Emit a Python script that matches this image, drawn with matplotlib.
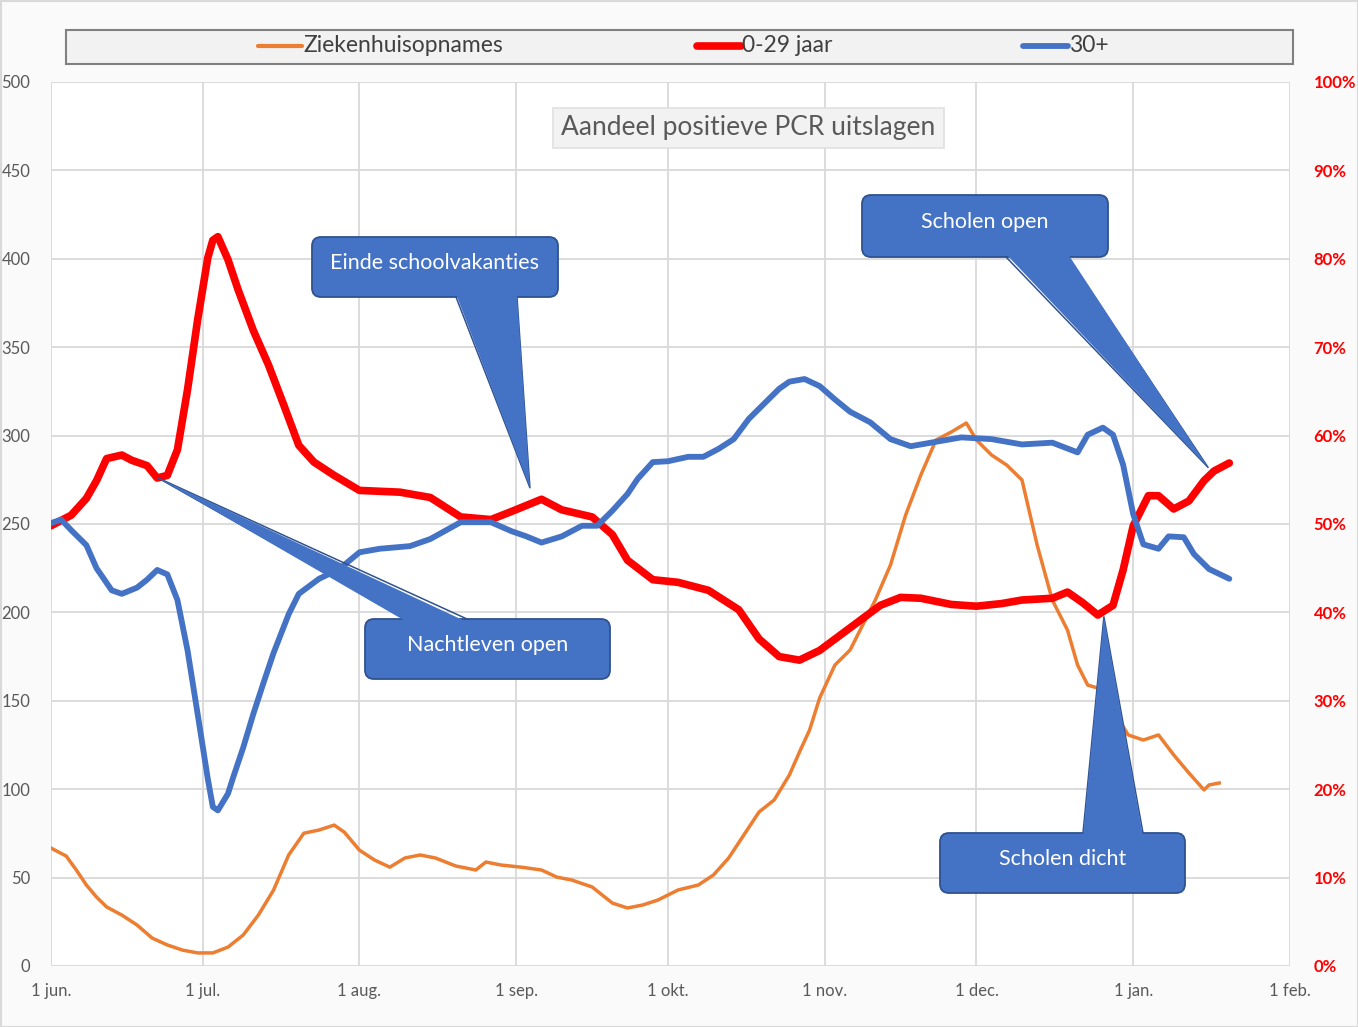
import matplotlib
matplotlib.use('Agg')
import matplotlib.pyplot as plt
import matplotlib.dates as mdates
from matplotlib.patches import FancyBboxPatch, Polygon, Rectangle
from matplotlib.lines import Line2D
from matplotlib.ticker import PercentFormatter
from matplotlib.transforms import IdentityTransform
import numpy as np
from datetime import datetime, timedelta

plt.rcParams['font.family'] = ['Lato', 'DejaVu Sans']

START = datetime(2021, 6, 1)
END = datetime(2022, 2, 1)

month_ticks = [datetime(2021, 6, 1), datetime(2021, 7, 1), datetime(2021, 8, 1),
               datetime(2021, 9, 1), datetime(2021, 10, 1), datetime(2021, 11, 1),
               datetime(2021, 12, 1), datetime(2022, 1, 1), datetime(2022, 2, 1)]
month_labels = ['1 jun.', '1 jul.', '1 aug.', '1 sep.', '1 okt.',
                '1 nov.', '1 dec.', '1 jan.', '1 feb.']

series_names = ['Ziekenhuisopnames', '0-29 jaar', '30+']

# ziekenhuisopnames (linker as), dagen sinds 1 juni
zkh_day = [0, 3, 5, 7, 9, 11, 14, 17, 20, 23, 26, 29, 32, 35, 38, 41, 44, 47, 50, 53,
           56, 58, 61, 64, 67, 70, 73, 76, 80, 84, 86, 89, 93, 97, 100, 103, 107, 111,
           114, 117, 120, 124, 128, 131, 134, 137, 140, 143, 146, 148, 150, 152, 155,
           158, 160, 163, 166, 169, 172, 175, 178, 181, 183, 186, 189, 192, 195, 198,
           201, 203, 205, 207, 210, 213, 216, 219, 222, 225, 228, 229, 231]
zkh_val = [66.7, 62.2, 54.3, 45.8, 39.0, 33.4, 28.8, 23.2, 15.8, 11.9, 9.0, 7.4, 7.4,
           10.7, 17.5, 28.8, 42.9, 62.8, 75.1, 76.9, 79.7, 75.7, 65.5, 59.9, 55.9, 61.1,
           62.8, 61.1, 56.6, 54.3, 58.8, 57.1, 55.9, 54.3, 50.3, 48.6, 44.7, 35.6, 32.8,
           34.5, 37.3, 43.0, 45.8, 51.5, 61.1, 74.1, 87.1, 93.9, 108.0, 121.0, 133.5,
           151.6, 170.2, 178.7, 190.0, 207.0, 226.8, 255.1, 277.7, 297.5, 302.0, 307.1,
           297.5, 289.0, 283.3, 274.9, 238.1, 207.0, 190.0, 170.2, 158.9, 157.2, 144.8,
           130.7, 127.8, 130.7, 119.4, 109.2, 99.6, 102.4, 103.5]

# aandeel positief 0-29 jaar (%)
young_day = [0, 4, 7, 9, 11, 14, 16, 19, 21, 23, 25, 27, 29, 31, 32, 33, 35, 37, 40, 43,
             46, 49, 52, 56, 61, 69, 75, 81, 87, 91, 94, 97, 101, 107, 111, 114, 119,
             124, 130, 136, 140, 144, 148, 152, 156, 160, 164, 168, 172, 178, 183, 188,
             192, 198, 201, 204, 207, 210, 212, 214, 217, 219, 222, 225, 228, 230, 233]
young_pct = [49.8, 51.0, 52.9, 54.9, 57.4, 57.8, 57.2, 56.6, 55.2, 55.5, 58.4, 65.2,
             73.1, 80.1, 82.1, 82.5, 79.9, 76.5, 71.9, 68.0, 63.5, 58.9, 57.0, 55.5,
             53.8, 53.6, 53.0, 50.8, 50.5, 51.4, 52.1, 52.8, 51.6, 50.8, 48.8, 45.9,
             43.7, 43.4, 42.5, 40.3, 37.0, 35.0, 34.6, 35.7, 37.4, 39.1, 40.8, 41.7,
             41.6, 40.9, 40.7, 41.0, 41.4, 41.6, 42.3, 41.1, 39.7, 40.8, 44.8, 49.8,
             53.2, 53.2, 51.7, 52.6, 54.9, 56.0, 56.9]

# aandeel positief 30+ (%)
old_day = [0, 2, 4, 7, 9, 12, 14, 17, 19, 21, 23, 25, 27, 29, 31, 32, 33, 35, 36, 38,
           40, 42, 44, 47, 49, 53, 57, 61, 65, 71, 75, 81, 87, 91, 94, 97, 101, 105,
           108, 111, 114, 116, 119, 122, 126, 129, 132, 135, 138, 141, 144, 146, 149,
           152, 155, 158, 162, 166, 170, 174, 180, 186, 192, 198, 203, 205, 208, 210,
           212, 214, 216, 219, 221, 224, 226, 229, 233]
old_pct = [50.1, 50.5, 49.3, 47.6, 45.0, 42.5, 42.1, 42.8, 43.7, 44.8, 44.3, 41.4,
           35.7, 28.5, 21.2, 18.0, 17.6, 19.5, 21.3, 24.7, 28.5, 32.0, 35.4, 39.8,
           42.1, 43.8, 44.9, 46.8, 47.2, 47.5, 48.3, 50.2, 50.2, 49.2, 48.6, 47.9,
           48.6, 49.8, 49.8, 51.5, 53.4, 55.1, 57.0, 57.1, 57.6, 57.6, 58.5, 59.6,
           61.9, 63.6, 65.3, 66.1, 66.4, 65.6, 64.1, 62.7, 61.5, 59.6, 58.8, 59.2,
           59.8, 59.6, 59.0, 59.2, 58.1, 60.1, 60.9, 60.1, 56.7, 51.1, 47.7, 47.2,
           48.6, 48.5, 46.6, 44.9, 43.8]

# callouts: tekst, (dag, %) waar de punt wijst
callout_texts = ['Einde schoolvakanties', 'Nachtleven open', 'Scholen open', 'Scholen dicht']
callout_tips = [(94.7, 54.1), (21.2, 55.2), (228.8, 56.4), (208.2, 39.5)]


def to_dates(days):
    return [START + timedelta(days=d) for d in days]


W, H = 1358, 1027
fig = plt.figure(figsize=(W / 100, H / 100), dpi=100, facecolor='#FAFAFA')

ax = fig.add_axes([51 / W, 1 - 966 / H, (1290 - 51) / W, (966 - 82) / H])
ax2 = ax.twinx()

ax.plot(to_dates(zkh_day), zkh_val, color='#ED7D31', lw=2.5, solid_joinstyle='round')
ax2.plot(to_dates(young_day), np.array(young_pct) / 100, color='#FF0000', lw=5.5,
         solid_capstyle='round', solid_joinstyle='round')
ax2.plot(to_dates(old_day), np.array(old_pct) / 100, color='#4472C4', lw=4.2,
         solid_capstyle='round', solid_joinstyle='round')

ax.set_xlim(START, END)
ax.set_ylim(0, 500)
ax2.set_ylim(0, 1)
ax.set_xticks(month_ticks)
ax.set_xticklabels(month_labels)
ax.set_yticks(range(0, 501, 50))
ax2.set_yticks(np.arange(0, 1.01, 0.1))
ax2.yaxis.set_major_formatter(PercentFormatter(1.0, decimals=0))

ax.grid(True, color='#D9D9D9', lw=1.3)
ax.set_axisbelow(True)
for a in (ax, ax2):
    for s in a.spines.values():
        s.set_visible(False)
ax.tick_params(axis='both', length=0, labelsize=12, labelcolor='#595959')
ax.tick_params(axis='y', pad=15)
ax.tick_params(axis='x', pad=12)
ax2.tick_params(axis='y', length=0, labelsize=12, labelcolor='#FF0000', pad=17)
for lab in ax2.get_yticklabels():
    lab.set_fontweight('bold')

ident = IdentityTransform()


def P(x, y):
    # pixel van linksboven -> display
    return (x, H - y)


# rand van de figuur
fig.patches.append(Rectangle((0.5, 0.5), W - 1, H - 1, transform=ident,
                             facecolor='none', edgecolor='#D9D9D9', lw=1.5))

# legenda
fig.patches.append(Rectangle(P(66, 64), 1293 - 66, 34, transform=ident,
                             facecolor='#F2F2F2', edgecolor='#808080', lw=1.5, zorder=2))
leg_x = [(258, 302), (697, 741), (1023, 1068)]
leg_col = ['#ED7D31', '#FF0000', '#4472C4']
leg_lw = [3.0, 5.5, 4.2]
for (xa, xb), c, lw, name in zip(leg_x, leg_col, leg_lw, series_names):
    fig.lines.append(Line2D([xa, xb], [H - 46, H - 46], transform=ident, color=c,
                            lw=lw, solid_capstyle='round', zorder=3))
    fig.text(xb + 1, H - 46, name, transform=ident, ha='left', va='center',
             fontsize=16.5, color='#404040', zorder=3)

# titel
fig.patches.append(Rectangle(P(553, 148), 944 - 553, 40, transform=ident,
                             facecolor='#F2F2F2', edgecolor='#E0E0E0', lw=1.2, zorder=2))
fig.text((553 + 944) / 2, H - 128, 'Aandeel positieve PCR uitslagen', transform=ident,
         ha='center', va='center', fontsize=19, color='#595959', zorder=3)

# callouts
boxes = [(312, 237, 558, 297), (365, 619, 610, 679), (862, 195, 1108, 257),
         (940, 833, 1185, 893)]
bases = [(456, 517, 'bottom'), (407, 467, 'top'), (1006, 1068, 'bottom'),
         (1083, 1143, 'top')]
for text, tip, box, base in zip(callout_texts, callout_tips, boxes, bases):
    x0, y0, x1, y1 = box
    tx, ty = ax2.transData.transform((mdates.date2num(START + timedelta(days=tip[0])),
                                      tip[1] / 100))
    fig.patches.append(FancyBboxPatch(P(x0, y1), x1 - x0, y1 - y0, transform=ident,
                                      boxstyle='round,pad=0,rounding_size=9',
                                      facecolor='#4472C4', edgecolor='#2F528F',
                                      lw=1.3, zorder=4))
    xa, xb, side = base
    yb = y1 if side == 'bottom' else y0
    inset = -3 if side == 'bottom' else 3
    fig.patches.append(Polygon([P(xa, yb + inset), (tx, ty), P(xb, yb + inset)],
                               closed=True, transform=ident, facecolor='#4472C4',
                               edgecolor='none', zorder=5))
    ex, ey = zip(P(xa, yb), (tx, ty), P(xb, yb))
    fig.lines.append(Line2D(ex, ey, transform=ident, color='#2F528F', lw=1.1, zorder=5))
    fig.text((x0 + x1) / 2, H - ((y0 + y1) / 2 - 4), text, transform=ident,
             ha='center', va='center', fontsize=15.5, color='white', zorder=6)

fig.savefig('out.png', dpi=100, facecolor=fig.get_facecolor())
